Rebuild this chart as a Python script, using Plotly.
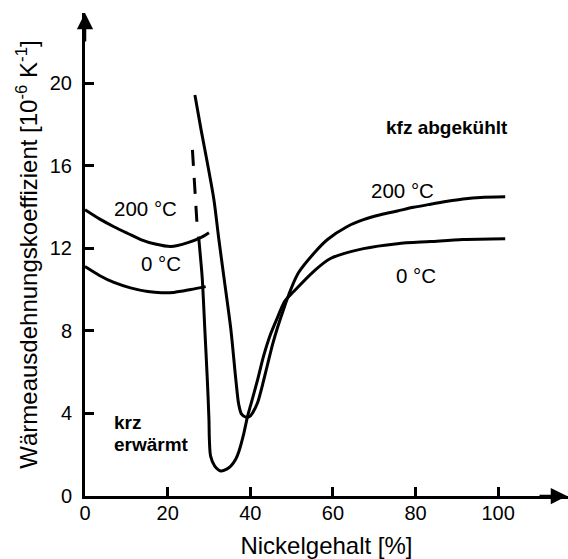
import plotly.graph_objects as go

# ---- data ----
krz_200_x = [0, 3.5, 7.0, 10.5, 13.5, 17.0, 20.8, 24.9, 28.0, 30.0]
krz_200_y = [13.86, 13.42, 13.04, 12.70, 12.42, 12.20, 12.08, 12.27, 12.51, 12.75]

krz_0_x = [0, 3.5, 7.0, 11.0, 15.2, 18.5, 21.5, 25.6, 29.2]
krz_0_y = [11.11, 10.68, 10.34, 10.08, 9.90, 9.84, 9.86, 10.00, 10.14]

trans_x = [26.0, 27.2]
trans_y = [16.76, 12.90]

kfz_0_x = [27.5, 28.0, 28.4, 29.0, 29.6, 30.0, 30.1, 30.4, 31.4, 32.9, 34.3, 35.3, 36.5,
           37.2, 38.4, 39.4, 40.1, 41.8, 43.2, 44.9, 46.6, 48.3, 50.5, 55.3, 59.4,
           67.4, 75.6, 83.6, 91.5, 101.7]
kfz_0_y = [12.56, 11.45, 10.48, 8.07, 5.65, 3.72, 2.75, 1.93, 1.45, 1.21, 1.30, 1.45, 1.79,
           2.13, 3.00, 3.91, 4.40, 5.65, 6.76, 7.83, 8.65, 9.42, 9.90, 10.87, 11.50,
           11.98, 12.22, 12.32, 12.42, 12.46]

kfz_200_x = [26.6, 28.1, 29.7, 31.2, 32.4, 33.7, 35.3, 36.5, 37.2, 37.9, 38.9, 39.9,
             40.8, 41.8, 43.0, 44.2, 45.4, 46.6, 48.3, 49.8, 51.7, 55.8, 58.7, 63.5,
             67.4, 71.5, 75.6, 79.5, 83.6, 87.7, 91.5, 95.7, 101.7]
kfz_200_y = [19.42, 17.73, 16.04, 14.35, 12.42, 10.48, 8.07, 5.65, 4.44, 3.96, 3.82, 3.86,
             4.11, 4.54, 5.41, 6.38, 7.34, 8.16, 9.18, 10.00, 10.82, 11.84, 12.42, 13.05,
             13.38, 13.62, 13.80, 13.98, 14.13, 14.27, 14.38, 14.46, 14.49]

x_ticks = [0, 20, 40, 60, 80, 100]
y_ticks = [0, 4, 8, 12, 16, 20]

FONT = "Liberation Sans, Arial, sans-serif"
LW = 3

fig = go.Figure()

def curve(x, y, dash="solid", shape="spline"):
    fig.add_trace(go.Scatter(
        x=x, y=y, mode="lines",
        line=dict(color="black", width=LW, dash=dash, shape=shape, smoothing=0.8),
        hoverinfo="skip", showlegend=False, cliponaxis=False))

curve(krz_200_x, krz_200_y)
curve(krz_0_x, krz_0_y)
curve(trans_x, trans_y, dash="16px,12px", shape="linear")
curve(kfz_0_x, kfz_0_y)
curve(kfz_200_x, kfz_200_y)

def label(text, x, y, bold=False, xanchor="center", size=20.5):
    fig.add_annotation(
        x=x, y=y, xref="x", yref="y", text=f"<b>{text}</b>" if bold else text,
        showarrow=False, xanchor=xanchor, yanchor="middle",
        font=dict(family=FONT, size=size, color="black"))

label("200 °C", 14.7, 13.9)
label("0 °C", 18.4, 11.26)
label("200 °C", 76.8, 14.78)
label("0 °C", 80.0, 10.68)
label("kfz abgekühlt", 87.7, 17.83, bold=True, size=19)
label("krz", 6.5, 3.57, bold=True, xanchor="left", size=19)
label("erwärmt", 6.5, 2.51, bold=True, xanchor="left", size=19)

# axis arrowheads
fig.add_annotation(x=0, y=1, xref="paper", yref="paper", ax=0, ay=30,
                   showarrow=True, arrowhead=2, arrowsize=1.3, arrowwidth=2.5,
                   arrowcolor="black", text="")
fig.add_annotation(x=1, y=0, xref="paper", yref="paper", ax=-30, ay=0,
                   showarrow=True, arrowhead=2, arrowsize=1.3, arrowwidth=2.5,
                   arrowcolor="black", text="")

axis_common = dict(
    showgrid=False, zeroline=False, showline=True, linecolor="black", linewidth=LW,
    ticks="inside", ticklen=9, tickwidth=2.5, tickcolor="black",
    tickfont=dict(family=FONT, size=20, color="black"),
)

fig.update_xaxes(range=[0, 116.9], tickvals=x_ticks, ticktext=[str(v) for v in x_ticks],
                 ticklabelstandoff=-3,
                 title=dict(text="Nickelgehalt [%]", font=dict(family=FONT, size=24, color="black"),
                            standoff=16),
                 **axis_common)
fig.update_yaxes(range=[0, 23.39], tickvals=y_ticks, ticktext=[str(v) for v in y_ticks],
                 ticklabelstandoff=6,
                 title=dict(text="Wärmeausdehnungskoeffizient [10<sup>-6</sup> K<sup>-1</sup>]",
                            font=dict(family=FONT, size=24, color="black"), standoff=6),
                 **axis_common)

fig.update_layout(
    width=568, height=559,
    margin=dict(l=85, r=0, t=13, b=63),
    paper_bgcolor="white", plot_bgcolor="white",
    showlegend=False,
)

fig.write_html("out.html")
